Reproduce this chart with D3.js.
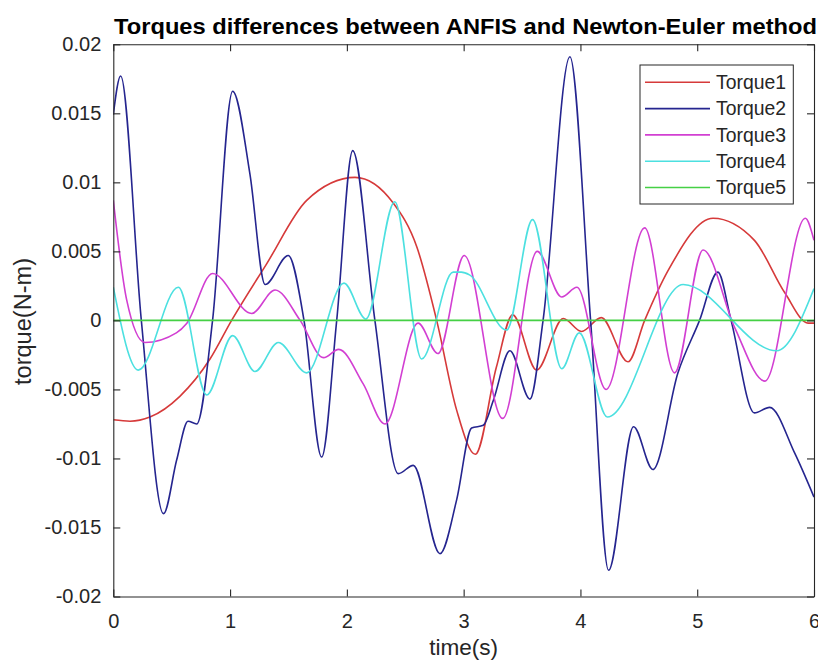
<!DOCTYPE html>
<html>
<head>
<meta charset="utf-8">
<script src="https://cdn.jsdelivr.net/npm/d3@7"></script>
<style>
  html, body { margin: 0; padding: 0; background: #fff; }
  svg { display: block; font-family: "Liberation Sans", Arial, Helvetica, sans-serif; }
</style>
</head>
<body>
<svg id="chart" width="818" height="662"></svg>
<script>
// Torque differences (N-m) between ANFIS and Newton-Euler, sampled at key times (s)
const time1   = [0, 0.143, 0.314, 0.57, 0.828, 1.013, 1.313, 1.656, 2.07, 2.397, 2.6, 2.769, 2.94, 3.10, 3.28, 3.42, 3.625, 3.853, 4.01, 4.178, 4.407, 4.55, 4.75, 5.135, 5.49, 5.75, 5.95, 6.0];
const torque1 = [-0.0072, -0.0073, -0.0070, -0.0055, -0.0028, 0, 0.0041, 0.0087, 0.01036, 0.0085, 0.0053, 0, -0.0065, -0.0097, -0.0034, 0.0004, -0.0036, 0.00014, -0.0008, 0.0002, -0.0030, 0, 0.0036, 0.0074, 0.0058, 0.0020, -0.0002, -0.0002];

const time2   = [0, 0.063, 0.24, 0.43, 0.543, 0.64, 0.714, 0.85, 1.022, 1.17, 1.30, 1.498, 1.633, 1.784, 1.913, 2.05, 2.24, 2.44, 2.569, 2.797, 2.94, 3.068, 3.168, 3.254, 3.396, 3.568, 3.68, 3.91, 4.087, 4.241, 4.455, 4.62, 4.835, 5.02, 5.177, 5.29, 5.49, 5.62, 5.834, 6.0];
const torque2 = [0.0149, 0.0177, 0, -0.0140, -0.0101, -0.0073, -0.0075, 0, 0.0166, 0.0106, 0.0026, 0.0047, 0, -0.0099, 0, 0.0123, 0, -0.0111, -0.0105, -0.0169, -0.0130, -0.0078, -0.0076, -0.0058, -0.0022, -0.0057, 0, 0.0191, 0, -0.0181, -0.0077, -0.0108, -0.0038, 0, 0.0035, 0, -0.0067, -0.0063, -0.0096, -0.0128];

const time3   = [0, 0.114, 0.27, 0.54, 0.63, 0.85, 1.185, 1.385, 1.6, 1.8, 1.93, 2.14, 2.326, 2.61, 2.78, 3.005, 3.334, 3.63, 3.84, 3.97, 4.22, 4.55, 4.806, 5.05, 5.32, 5.58, 5.925, 6.0];
const torque3 = [0.0087, 0.0015, -0.0016, -0.0009, -0.0002, 0.0034, 0.0005, 0.0022, 0, -0.0027, -0.0021, -0.0046, -0.0075, -0.0002, -0.0024, 0.0047, -0.0071, 0.0050, 0.0017, 0.0024, -0.0050, 0.0067, -0.0038, 0.0051, -0.0005, -0.0044, 0.0074, 0.0058];

const time4   = [0, 0.214, 0.557, 0.80, 1.022, 1.213, 1.413, 1.656, 1.975, 2.163, 2.41, 2.64, 2.91, 2.98, 3.05, 3.368, 3.59, 3.84, 3.99, 4.23, 4.88, 5.68, 6.0];
const torque4 = [0.0024, -0.0036, 0.0024, -0.0054, -0.0011, -0.0037, -0.0016, -0.0038, 0.0027, 0.0001, 0.0086, -0.0028, 0.0035, 0.0035, 0.0033, -0.0007, 0.0073, -0.0035, -0.0009, -0.0070, 0.0026, -0.0022, 0.0023];

const time5   = [0, 6];
const torque5 = [0, 0];

const seriesNames  = ["Torque1", "Torque2", "Torque3", "Torque4", "Torque5"];
const seriesColors = ["#d63a3a", "#25258f", "#d23fd2", "#4ce0e0", "#45d045"];

const xTicks = [0, 1, 2, 3, 4, 5, 6];
const xTickLabels = ["0", "1", "2", "3", "4", "5", "6"];
const yTicks = [0.02, 0.015, 0.01, 0.005, 0, -0.005, -0.01, -0.015, -0.02];
const yTickLabels = ["0.02", "0.015", "0.01", "0.005", "0", "-0.005", "-0.01", "-0.015", "-0.02"];

const titleText = "Torques differences between ANFIS and Newton-Euler method";
const xLabelText = "time(s)";
const yLabelText = "torque(N-m)";

// ---- layout ----
const svg = d3.select("#chart");
const W = 818, H = 662;
const plot = { left: 113.3, right: 814, top: 44.3, bottom: 596.5 };
const axisColor = "#262626";
const tickLen = 7;

const x = d3.scaleLinear().domain([0, 6]).range([plot.left, plot.right]);
const y = d3.scaleLinear().domain([-0.02, 0.02]).range([plot.bottom, plot.top]);

svg.append("rect").attr("width", W).attr("height", H).attr("fill", "#fff");

// series lines
const seriesData = [
  d3.zip(time1, torque1),
  d3.zip(time2, torque2),
  d3.zip(time3, torque3),
  d3.zip(time4, torque4),
  d3.zip(time5, torque5)
];

svg.append("clipPath").attr("id", "plotClip")
  .append("rect")
  .attr("x", plot.left).attr("y", plot.top)
  .attr("width", plot.right - plot.left).attr("height", plot.bottom - plot.top);

const line = d3.line()
  .x(d => x(d[0]))
  .y(d => y(d[1]))
  .curve(d3.curveMonotoneX);

const linesG = svg.append("g").attr("clip-path", "url(#plotClip)");
seriesData.forEach((pts, i) => {
  linesG.append("path")
    .datum(pts)
    .attr("fill", "none")
    .attr("stroke", seriesColors[i])
    .attr("stroke-width", 1.6)
    .attr("stroke-linejoin", "round")
    .attr("d", line);
});

// axes (MATLAB-style box with inward ticks)
const xAxisBottom = d3.axisBottom(x).tickValues(xTicks)
  .tickFormat((d, i) => xTickLabels[i]).tickSizeInner(-tickLen).tickSizeOuter(0).tickPadding(17);
const xAxisTop = d3.axisTop(x).tickValues(xTicks)
  .tickFormat("").tickSizeInner(-tickLen).tickSizeOuter(0);
const yAxisLeft = d3.axisLeft(y).tickValues(yTicks)
  .tickFormat((d, i) => yTickLabels[i]).tickSizeInner(-tickLen).tickSizeOuter(0).tickPadding(12);
const yAxisRight = d3.axisRight(y).tickValues(yTicks)
  .tickFormat("").tickSizeInner(-tickLen).tickSizeOuter(0);

function styleAxis(g) {
  g.select(".domain").attr("stroke", axisColor).attr("stroke-width", 1.1);
  g.selectAll(".tick line").attr("stroke", axisColor).attr("stroke-width", 1.1);
  g.selectAll(".tick text")
    .attr("fill", axisColor)
    .style("font-size", "20px")
    .style("font-family", "'Liberation Sans', Arial, sans-serif");
}

svg.append("g").attr("transform", `translate(0,${plot.bottom})`).call(xAxisBottom).call(styleAxis);
svg.append("g").attr("transform", `translate(0,${plot.top})`).call(xAxisTop).call(styleAxis);
svg.append("g").attr("transform", `translate(${plot.left},0)`).call(yAxisLeft).call(styleAxis);
svg.append("g").attr("transform", `translate(${plot.right},0)`).call(yAxisRight).call(styleAxis);

// title and axis labels
svg.append("text")
  .attr("x", 114).attr("y", 34)
  .attr("textLength", 703).attr("lengthAdjust", "spacingAndGlyphs")
  .attr("fill", "#000")
  .style("font-size", "22.5px").style("font-weight", "bold")
  .text(titleText);

svg.append("text")
  .attr("x", (plot.left + plot.right) / 2).attr("y", 655)
  .attr("text-anchor", "middle").attr("fill", axisColor)
  .attr("textLength", 69).attr("lengthAdjust", "spacingAndGlyphs")
  .style("font-size", "22.5px")
  .text(xLabelText);

svg.append("text")
  .attr("transform", `translate(31,${(258 + 385) / 2}) rotate(-90)`)
  .attr("text-anchor", "middle").attr("fill", axisColor)
  .attr("textLength", 127).attr("lengthAdjust", "spacingAndGlyphs")
  .style("font-size", "23px")
  .text(yLabelText);

// legend
const legend = { x: 640, y: 65, w: 153.3, h: 139, rowGap: 26.3, firstRow: 82.3 };
const lg = svg.append("g");
lg.append("rect")
  .attr("x", legend.x).attr("y", legend.y)
  .attr("width", legend.w).attr("height", legend.h)
  .attr("fill", "#fff").attr("stroke", axisColor).attr("stroke-width", 1);
seriesNames.forEach((name, i) => {
  const ry = legend.firstRow + i * legend.rowGap;
  lg.append("line")
    .attr("x1", 645).attr("x2", 710).attr("y1", ry).attr("y2", ry)
    .attr("stroke", seriesColors[i]).attr("stroke-width", 1.6);
  lg.append("text")
    .attr("x", 716).attr("y", ry).attr("dy", "0.35em")
    .attr("fill", axisColor)
    .attr("textLength", 70).attr("lengthAdjust", "spacingAndGlyphs")
    .style("font-size", "19.5px")
    .text(name);
});
</script>
</body>
</html>
